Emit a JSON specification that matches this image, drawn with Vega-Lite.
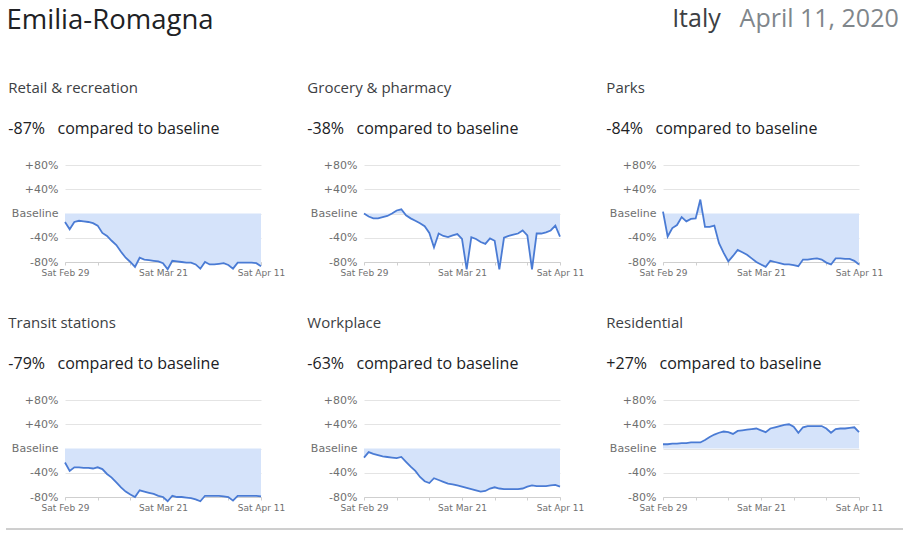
{
  "$schema": "https://vega.github.io/schema/vega-lite/v6.json",
  "background": "white",
  "padding": {"left": 5, "top": 6, "right": 4, "bottom": 3},
  "config": {
    "view": {"stroke": null},
    "axis": {"labelFont": "DejaVu Sans", "labelFontSize": 11, "labelColor": "#6f6f6f"},
    "title": {"font": "Open Sans", "fontWeight": "normal", "anchor": "start", "frame": "bounds", "subtitleFont": "Open Sans", "fontSize": 15, "color": "#3c4043", "subtitleFontSize": 16, "subtitleColor": "#202124", "subtitlePadding": 25, "offset": 22, "dx": -3}
  },
  "datasets": {
    "m": [
      {"date": "2020-02-29", "retail": -14, "grocery": 0, "parks": 3, "transit": -23, "workplace": -15, "residential": 7},
      {"date": "2020-03-01", "retail": -26, "grocery": -5, "parks": -38, "transit": -37, "workplace": -6, "residential": 7},
      {"date": "2020-03-02", "retail": -14, "grocery": -8, "parks": -24, "transit": -31, "workplace": -9, "residential": 8},
      {"date": "2020-03-03", "retail": -12, "grocery": -8, "parks": -19, "transit": -31, "workplace": -11, "residential": 8},
      {"date": "2020-03-04", "retail": -13, "grocery": -6, "parks": -6, "transit": -32, "workplace": -13, "residential": 9},
      {"date": "2020-03-05", "retail": -14, "grocery": -4, "parks": -13, "transit": -32, "workplace": -14, "residential": 9},
      {"date": "2020-03-06", "retail": -16, "grocery": 0, "parks": -9, "transit": -33, "workplace": -15, "residential": 10},
      {"date": "2020-03-07", "retail": -20, "grocery": 5, "parks": -8, "transit": -31, "workplace": -16, "residential": 10},
      {"date": "2020-03-08", "retail": -32, "grocery": 7, "parks": 23, "transit": -34, "workplace": -14, "residential": 10},
      {"date": "2020-03-09", "retail": -37, "grocery": -3, "parks": -22, "transit": -42, "workplace": -22, "residential": 14},
      {"date": "2020-03-10", "retail": -45, "grocery": -8, "parks": -22, "transit": -48, "workplace": -30, "residential": 19},
      {"date": "2020-03-11", "retail": -52, "grocery": -12, "parks": -20, "transit": -56, "workplace": -37, "residential": 23},
      {"date": "2020-03-12", "retail": -63, "grocery": -16, "parks": -49, "transit": -64, "workplace": -47, "residential": 26},
      {"date": "2020-03-13", "retail": -73, "grocery": -21, "parks": -65, "transit": -71, "workplace": -54, "residential": 28},
      {"date": "2020-03-14", "retail": -80, "grocery": -32, "parks": -79, "transit": -76, "workplace": -57, "residential": 27},
      {"date": "2020-03-15", "retail": -88, "grocery": -56, "parks": -70, "transit": -80, "workplace": -49, "residential": 24},
      {"date": "2020-03-16", "retail": -73, "grocery": -33, "parks": -60, "transit": -69, "workplace": -52, "residential": 29},
      {"date": "2020-03-17", "retail": -76, "grocery": -37, "parks": -64, "transit": -71, "workplace": -55, "residential": 30},
      {"date": "2020-03-18", "retail": -77, "grocery": -39, "parks": -68, "transit": -73, "workplace": -58, "residential": 31},
      {"date": "2020-03-19", "retail": -78, "grocery": -36, "parks": -74, "transit": -75, "workplace": -59, "residential": 32},
      {"date": "2020-03-20", "retail": -79, "grocery": -34, "parks": -80, "transit": -78, "workplace": -61, "residential": 33},
      {"date": "2020-03-21", "retail": -82, "grocery": -42, "parks": -84, "transit": -80, "workplace": -63, "residential": 30},
      {"date": "2020-03-22", "retail": -92, "grocery": -92, "parks": -88, "transit": -87, "workplace": -65, "residential": 27},
      {"date": "2020-03-23", "retail": -78, "grocery": -39, "parks": -78, "transit": -78, "workplace": -67, "residential": 33},
      {"date": "2020-03-24", "retail": -79, "grocery": -42, "parks": -80, "transit": -80, "workplace": -69, "residential": 35},
      {"date": "2020-03-25", "retail": -80, "grocery": -47, "parks": -82, "transit": -80, "workplace": -71, "residential": 37},
      {"date": "2020-03-26", "retail": -81, "grocery": -50, "parks": -84, "transit": -81, "workplace": -70, "residential": 39},
      {"date": "2020-03-27", "retail": -81, "grocery": -41, "parks": -84, "transit": -82, "workplace": -66, "residential": 40},
      {"date": "2020-03-28", "retail": -84, "grocery": -45, "parks": -85, "transit": -84, "workplace": -64, "residential": 36},
      {"date": "2020-03-29", "retail": -91, "grocery": -92, "parks": -87, "transit": -87, "workplace": -66, "residential": 26},
      {"date": "2020-03-30", "retail": -80, "grocery": -40, "parks": -76, "transit": -78, "workplace": -67, "residential": 35},
      {"date": "2020-03-31", "retail": -84, "grocery": -37, "parks": -76, "transit": -78, "workplace": -67, "residential": 37},
      {"date": "2020-04-01", "retail": -84, "grocery": -35, "parks": -75, "transit": -78, "workplace": -67, "residential": 37},
      {"date": "2020-04-02", "retail": -83, "grocery": -33, "parks": -74, "transit": -78, "workplace": -67, "residential": 37},
      {"date": "2020-04-03", "retail": -82, "grocery": -28, "parks": -76, "transit": -79, "workplace": -66, "residential": 37},
      {"date": "2020-04-04", "retail": -85, "grocery": -36, "parks": -81, "transit": -80, "workplace": -63, "residential": 33},
      {"date": "2020-04-05", "retail": -91, "grocery": -92, "parks": -84, "transit": -86, "workplace": -61, "residential": 26},
      {"date": "2020-04-06", "retail": -81, "grocery": -33, "parks": -74, "transit": -78, "workplace": -62, "residential": 32},
      {"date": "2020-04-07", "retail": -81, "grocery": -33, "parks": -74, "transit": -78, "workplace": -62, "residential": 33},
      {"date": "2020-04-08", "retail": -81, "grocery": -31, "parks": -75, "transit": -78, "workplace": -62, "residential": 33},
      {"date": "2020-04-09", "retail": -81, "grocery": -28, "parks": -75, "transit": -78, "workplace": -61, "residential": 34},
      {"date": "2020-04-10", "retail": -82, "grocery": -20, "parks": -78, "transit": -78, "workplace": -60, "residential": 35},
      {"date": "2020-04-11", "retail": -87, "grocery": -38, "parks": -84, "transit": -79, "workplace": -63, "residential": 27}
    ],
    "rule": [{"a": 0, "b": 1}]
  },
  "data": {"name": "m"},
  "title": {"text": "Emilia-Romagna", "fontSize": 27.5, "color": "#202124", "offset": 0, "dy": 27, "dx": 1},
  "align": "none",
  "columns": 1,
  "spacing": 16,
  "concat": [
    {
      "title": {"text": "Italy", "anchor": "end", "fontSize": 25, "color": "#3c4043", "offset": 0, "dy": 25, "dx": -178},
      "vconcat": [
        {
          "title": {"text": "April 11, 2020", "anchor": "end", "fontSize": 25, "color": "#80868b", "offset": 49, "dx": 16},
          "columns": 3,
          "bounds": "flush",
          "spacing": {"row": 138, "column": 103},
          "concat": [
            {
              "title": {"text": "Retail & recreation", "subtitle": "-87%\u00a0\u00a0 compared to baseline"},
              "width": 196, "height": 97,
              "encoding": {
                "x": {"field": "date", "type": "temporal", "scale": {"type": "utc", "nice": false}, "axis": {"title": null, "values": [{"year": 2020, "month": 2, "date": 29, "utc": true}, {"year": 2020, "month": 3, "date": 7, "utc": true}, {"year": 2020, "month": 3, "date": 14, "utc": true}, {"year": 2020, "month": 3, "date": 21, "utc": true}, {"year": 2020, "month": 3, "date": 28, "utc": true}, {"year": 2020, "month": 4, "date": 4, "utc": true}, {"year": 2020, "month": 4, "date": 11, "utc": true}], "labelExpr": "(utcdate(datum.value) == 29 || utcdate(datum.value) == 21 || utcdate(datum.value) == 11) ? utcFormat(datum.value, '%a %b %-d') : ''", "labelOverlap": false, "grid": false, "domainColor": "#cfcfcf", "tickColor": "#cfcfcf", "tickSize": 3, "labelPadding": 3, "labelFlush": false, "labelFontSize": 9}},
                "y": {"field": "retail", "type": "quantitative", "scale": {"domain": [-80, 80], "nice": false, "zero": false}, "axis": {"title": null, "values": [-80, -40, 0, 40, 80], "labelExpr": "datum.value == 0 ? 'Baseline' : (datum.value > 0 ? '+' : '') + datum.value + '%'", "domain": false, "ticks": false, "gridColor": "#e4e4e4", "labelPadding": 7}}
              },
              "layer": [
                {"mark": {"type": "area", "color": "#d5e3fa"}},
                {"mark": {"type": "line", "color": "#4a7bd4", "strokeWidth": 1.8}}
              ]
            },
            {
              "title": {"text": "Grocery & pharmacy", "subtitle": "-38%\u00a0\u00a0 compared to baseline"},
              "width": 196, "height": 97,
              "encoding": {
                "x": {"field": "date", "type": "temporal", "scale": {"type": "utc", "nice": false}, "axis": {"title": null, "values": [{"year": 2020, "month": 2, "date": 29, "utc": true}, {"year": 2020, "month": 3, "date": 7, "utc": true}, {"year": 2020, "month": 3, "date": 14, "utc": true}, {"year": 2020, "month": 3, "date": 21, "utc": true}, {"year": 2020, "month": 3, "date": 28, "utc": true}, {"year": 2020, "month": 4, "date": 4, "utc": true}, {"year": 2020, "month": 4, "date": 11, "utc": true}], "labelExpr": "(utcdate(datum.value) == 29 || utcdate(datum.value) == 21 || utcdate(datum.value) == 11) ? utcFormat(datum.value, '%a %b %-d') : ''", "labelOverlap": false, "grid": false, "domainColor": "#cfcfcf", "tickColor": "#cfcfcf", "tickSize": 3, "labelPadding": 3, "labelFlush": false, "labelFontSize": 9}},
                "y": {"field": "grocery", "type": "quantitative", "scale": {"domain": [-80, 80], "nice": false, "zero": false}, "axis": {"title": null, "values": [-80, -40, 0, 40, 80], "labelExpr": "datum.value == 0 ? 'Baseline' : (datum.value > 0 ? '+' : '') + datum.value + '%'", "domain": false, "ticks": false, "gridColor": "#e4e4e4", "labelPadding": 7}}
              },
              "layer": [
                {"mark": {"type": "area", "color": "#d5e3fa"}},
                {"mark": {"type": "line", "color": "#4a7bd4", "strokeWidth": 1.8}}
              ]
            },
            {
              "title": {"text": "Parks", "subtitle": "-84%\u00a0\u00a0 compared to baseline"},
              "width": 196, "height": 97,
              "encoding": {
                "x": {"field": "date", "type": "temporal", "scale": {"type": "utc", "nice": false}, "axis": {"title": null, "values": [{"year": 2020, "month": 2, "date": 29, "utc": true}, {"year": 2020, "month": 3, "date": 7, "utc": true}, {"year": 2020, "month": 3, "date": 14, "utc": true}, {"year": 2020, "month": 3, "date": 21, "utc": true}, {"year": 2020, "month": 3, "date": 28, "utc": true}, {"year": 2020, "month": 4, "date": 4, "utc": true}, {"year": 2020, "month": 4, "date": 11, "utc": true}], "labelExpr": "(utcdate(datum.value) == 29 || utcdate(datum.value) == 21 || utcdate(datum.value) == 11) ? utcFormat(datum.value, '%a %b %-d') : ''", "labelOverlap": false, "grid": false, "domainColor": "#cfcfcf", "tickColor": "#cfcfcf", "tickSize": 3, "labelPadding": 3, "labelFlush": false, "labelFontSize": 9}},
                "y": {"field": "parks", "type": "quantitative", "scale": {"domain": [-80, 80], "nice": false, "zero": false}, "axis": {"title": null, "values": [-80, -40, 0, 40, 80], "labelExpr": "datum.value == 0 ? 'Baseline' : (datum.value > 0 ? '+' : '') + datum.value + '%'", "domain": false, "ticks": false, "gridColor": "#e4e4e4", "labelPadding": 7}}
              },
              "layer": [
                {"mark": {"type": "area", "color": "#d5e3fa"}},
                {"mark": {"type": "line", "color": "#4a7bd4", "strokeWidth": 1.8}}
              ]
            },
            {
              "title": {"text": "Transit stations", "subtitle": "-79%\u00a0\u00a0 compared to baseline"},
              "width": 196, "height": 97,
              "encoding": {
                "x": {"field": "date", "type": "temporal", "scale": {"type": "utc", "nice": false}, "axis": {"title": null, "values": [{"year": 2020, "month": 2, "date": 29, "utc": true}, {"year": 2020, "month": 3, "date": 7, "utc": true}, {"year": 2020, "month": 3, "date": 14, "utc": true}, {"year": 2020, "month": 3, "date": 21, "utc": true}, {"year": 2020, "month": 3, "date": 28, "utc": true}, {"year": 2020, "month": 4, "date": 4, "utc": true}, {"year": 2020, "month": 4, "date": 11, "utc": true}], "labelExpr": "(utcdate(datum.value) == 29 || utcdate(datum.value) == 21 || utcdate(datum.value) == 11) ? utcFormat(datum.value, '%a %b %-d') : ''", "labelOverlap": false, "grid": false, "domainColor": "#cfcfcf", "tickColor": "#cfcfcf", "tickSize": 3, "labelPadding": 3, "labelFlush": false, "labelFontSize": 9}},
                "y": {"field": "transit", "type": "quantitative", "scale": {"domain": [-80, 80], "nice": false, "zero": false}, "axis": {"title": null, "values": [-80, -40, 0, 40, 80], "labelExpr": "datum.value == 0 ? 'Baseline' : (datum.value > 0 ? '+' : '') + datum.value + '%'", "domain": false, "ticks": false, "gridColor": "#e4e4e4", "labelPadding": 7}}
              },
              "layer": [
                {"mark": {"type": "area", "color": "#d5e3fa"}},
                {"mark": {"type": "line", "color": "#4a7bd4", "strokeWidth": 1.8}}
              ]
            },
            {
              "title": {"text": "Workplace", "subtitle": "-63%\u00a0\u00a0 compared to baseline"},
              "width": 196, "height": 97,
              "encoding": {
                "x": {"field": "date", "type": "temporal", "scale": {"type": "utc", "nice": false}, "axis": {"title": null, "values": [{"year": 2020, "month": 2, "date": 29, "utc": true}, {"year": 2020, "month": 3, "date": 7, "utc": true}, {"year": 2020, "month": 3, "date": 14, "utc": true}, {"year": 2020, "month": 3, "date": 21, "utc": true}, {"year": 2020, "month": 3, "date": 28, "utc": true}, {"year": 2020, "month": 4, "date": 4, "utc": true}, {"year": 2020, "month": 4, "date": 11, "utc": true}], "labelExpr": "(utcdate(datum.value) == 29 || utcdate(datum.value) == 21 || utcdate(datum.value) == 11) ? utcFormat(datum.value, '%a %b %-d') : ''", "labelOverlap": false, "grid": false, "domainColor": "#cfcfcf", "tickColor": "#cfcfcf", "tickSize": 3, "labelPadding": 3, "labelFlush": false, "labelFontSize": 9}},
                "y": {"field": "workplace", "type": "quantitative", "scale": {"domain": [-80, 80], "nice": false, "zero": false}, "axis": {"title": null, "values": [-80, -40, 0, 40, 80], "labelExpr": "datum.value == 0 ? 'Baseline' : (datum.value > 0 ? '+' : '') + datum.value + '%'", "domain": false, "ticks": false, "gridColor": "#e4e4e4", "labelPadding": 7}}
              },
              "layer": [
                {"mark": {"type": "area", "color": "#d5e3fa"}},
                {"mark": {"type": "line", "color": "#4a7bd4", "strokeWidth": 1.8}}
              ]
            },
            {
              "title": {"text": "Residential", "subtitle": "+27%\u00a0\u00a0 compared to baseline"},
              "width": 196, "height": 97,
              "encoding": {
                "x": {"field": "date", "type": "temporal", "scale": {"type": "utc", "nice": false}, "axis": {"title": null, "values": [{"year": 2020, "month": 2, "date": 29, "utc": true}, {"year": 2020, "month": 3, "date": 7, "utc": true}, {"year": 2020, "month": 3, "date": 14, "utc": true}, {"year": 2020, "month": 3, "date": 21, "utc": true}, {"year": 2020, "month": 3, "date": 28, "utc": true}, {"year": 2020, "month": 4, "date": 4, "utc": true}, {"year": 2020, "month": 4, "date": 11, "utc": true}], "labelExpr": "(utcdate(datum.value) == 29 || utcdate(datum.value) == 21 || utcdate(datum.value) == 11) ? utcFormat(datum.value, '%a %b %-d') : ''", "labelOverlap": false, "grid": false, "domainColor": "#cfcfcf", "tickColor": "#cfcfcf", "tickSize": 3, "labelPadding": 3, "labelFlush": false, "labelFontSize": 9}},
                "y": {"field": "residential", "type": "quantitative", "scale": {"domain": [-80, 80], "nice": false, "zero": false}, "axis": {"title": null, "values": [-80, -40, 0, 40, 80], "labelExpr": "datum.value == 0 ? 'Baseline' : (datum.value > 0 ? '+' : '') + datum.value + '%'", "domain": false, "ticks": false, "gridColor": "#e4e4e4", "labelPadding": 7}}
              },
              "layer": [
                {"mark": {"type": "area", "color": "#d5e3fa"}},
                {"mark": {"type": "line", "color": "#4a7bd4", "strokeWidth": 1.8}}
              ]
            }
          ]
        }
      ]
    },
    {
      "data": {"name": "rule"},
      "width": 780, "height": 1,
      "mark": {"type": "rule", "color": "#9e9e9e", "strokeWidth": 1},
      "encoding": {
        "x": {"field": "a", "type": "quantitative", "scale": {"domain": [0, 1], "range": [-59, 838]}, "axis": null},
        "x2": {"field": "b"},
        "y": {"field": "a", "type": "quantitative", "scale": {"domain": [0, 1]}, "axis": null}
      }
    }
  ]
}
